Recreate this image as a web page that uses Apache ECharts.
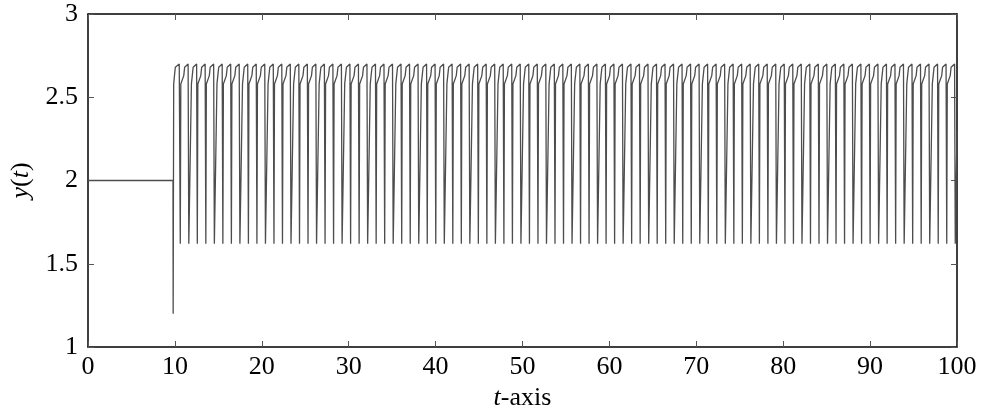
<!DOCTYPE html>
<html><head><meta charset="utf-8">
<script src="https://cdn.jsdelivr.net/npm/echarts@6/dist/echarts.min.js"></script>
<style>html,body{margin:0;padding:0;background:#fff}#c{width:987px;height:409px}</style>
</head><body><div id="c"></div>
<script>
const xTicks = [0,10,20,30,40,50,60,70,80,90,100];
const yTicks = [1,1.5,2,2.5,3];
const initialSegment = [[0,2],[9.78,2],[9.8,1.2],[9.86,2.58],[9.95,2.63],[10.05,2.68],[10.5,2.7]];
const oscillation = [
[10.62,1.62],[10.68,2.58],[11.02,2.63],[11.12,2.68],[11.52,2.7],
[11.6,1.62],[11.9,2.58],[12.0,2.63],[12.1,2.68],[12.5,2.7],
[12.58,1.62],[12.64,2.58],[12.98,2.63],[13.08,2.68],[13.48,2.7],
[13.56,1.62],[13.62,2.58],[13.96,2.63],[14.06,2.68],[14.46,2.7],
[14.54,1.62],[14.84,2.58],[14.94,2.63],[15.04,2.68],[15.44,2.7],
[15.52,1.62],[15.58,2.58],[15.92,2.63],[16.02,2.68],[16.42,2.7],
[16.5,1.62],[16.56,2.58],[16.9,2.63],[17.0,2.68],[17.4,2.7],
[17.48,1.62],[17.78,2.58],[17.88,2.63],[17.98,2.68],[18.38,2.7],
[18.46,1.62],[18.52,2.58],[18.86,2.63],[18.96,2.68],[19.36,2.7],
[19.44,1.62],[19.5,2.58],[19.84,2.63],[19.94,2.68],[20.34,2.7],
[20.42,1.62],[20.72,2.58],[20.82,2.63],[20.92,2.68],[21.32,2.7],
[21.4,1.62],[21.46,2.58],[21.8,2.63],[21.9,2.68],[22.3,2.7],
[22.38,1.62],[22.44,2.58],[22.78,2.63],[22.88,2.68],[23.28,2.7],
[23.36,1.62],[23.66,2.58],[23.76,2.63],[23.86,2.68],[24.26,2.7],
[24.34,1.62],[24.4,2.58],[24.74,2.63],[24.84,2.68],[25.24,2.7],
[25.32,1.62],[25.38,2.58],[25.72,2.63],[25.82,2.68],[26.22,2.7],
[26.3,1.62],[26.6,2.58],[26.7,2.63],[26.8,2.68],[27.2,2.7],
[27.28,1.62],[27.34,2.58],[27.68,2.63],[27.78,2.68],[28.18,2.7],
[28.26,1.62],[28.32,2.58],[28.66,2.63],[28.76,2.68],[29.16,2.7],
[29.24,1.62],[29.54,2.58],[29.64,2.63],[29.74,2.68],[30.14,2.7],
[30.22,1.62],[30.28,2.58],[30.62,2.63],[30.72,2.68],[31.12,2.7],
[31.2,1.62],[31.26,2.58],[31.6,2.63],[31.7,2.68],[32.1,2.7],
[32.18,1.62],[32.48,2.58],[32.58,2.63],[32.68,2.68],[33.08,2.7],
[33.16,1.62],[33.22,2.58],[33.56,2.63],[33.66,2.68],[34.06,2.7],
[34.14,1.62],[34.2,2.58],[34.54,2.63],[34.64,2.68],[35.04,2.7],
[35.12,1.62],[35.42,2.58],[35.52,2.63],[35.62,2.68],[36.02,2.7],
[36.1,1.62],[36.16,2.58],[36.5,2.63],[36.6,2.68],[37.0,2.7],
[37.08,1.62],[37.14,2.58],[37.48,2.63],[37.58,2.68],[37.98,2.7],
[38.06,1.62],[38.36,2.58],[38.46,2.63],[38.56,2.68],[38.96,2.7],
[39.04,1.62],[39.1,2.58],[39.44,2.63],[39.54,2.68],[39.94,2.7],
[40.02,1.62],[40.08,2.58],[40.42,2.63],[40.52,2.68],[40.92,2.7],
[41.0,1.62],[41.3,2.58],[41.4,2.63],[41.5,2.68],[41.9,2.7],
[41.98,1.62],[42.04,2.58],[42.38,2.63],[42.48,2.68],[42.88,2.7],
[42.96,1.62],[43.02,2.58],[43.36,2.63],[43.46,2.68],[43.86,2.7],
[43.94,1.62],[44.24,2.58],[44.34,2.63],[44.44,2.68],[44.84,2.7],
[44.92,1.62],[44.98,2.58],[45.32,2.63],[45.42,2.68],[45.82,2.7],
[45.9,1.62],[45.96,2.58],[46.3,2.63],[46.4,2.68],[46.8,2.7],
[46.88,1.62],[47.18,2.58],[47.28,2.63],[47.38,2.68],[47.78,2.7],
[47.86,1.62],[47.92,2.58],[48.26,2.63],[48.36,2.68],[48.76,2.7],
[48.84,1.62],[48.9,2.58],[49.24,2.63],[49.34,2.68],[49.74,2.7],
[49.82,1.62],[50.12,2.58],[50.22,2.63],[50.32,2.68],[50.72,2.7],
[50.8,1.62],[50.86,2.58],[51.2,2.63],[51.3,2.68],[51.7,2.7],
[51.78,1.62],[51.84,2.58],[52.18,2.63],[52.28,2.68],[52.68,2.7],
[52.76,1.62],[53.06,2.58],[53.16,2.63],[53.26,2.68],[53.66,2.7],
[53.74,1.62],[53.8,2.58],[54.14,2.63],[54.24,2.68],[54.64,2.7],
[54.72,1.62],[54.78,2.58],[55.12,2.63],[55.22,2.68],[55.62,2.7],
[55.7,1.62],[56.0,2.58],[56.1,2.63],[56.2,2.68],[56.6,2.7],
[56.68,1.62],[56.74,2.58],[57.08,2.63],[57.18,2.68],[57.58,2.7],
[57.66,1.62],[57.72,2.58],[58.06,2.63],[58.16,2.68],[58.56,2.7],
[58.64,1.62],[58.94,2.58],[59.04,2.63],[59.14,2.68],[59.54,2.7],
[59.62,1.62],[59.68,2.58],[60.02,2.63],[60.12,2.68],[60.52,2.7],
[60.6,1.62],[60.66,2.58],[61.0,2.63],[61.1,2.68],[61.5,2.7],
[61.58,1.62],[61.88,2.58],[61.98,2.63],[62.08,2.68],[62.48,2.7],
[62.56,1.62],[62.62,2.58],[62.96,2.63],[63.06,2.68],[63.46,2.7],
[63.54,1.62],[63.6,2.58],[63.94,2.63],[64.04,2.68],[64.44,2.7],
[64.52,1.62],[64.82,2.58],[64.92,2.63],[65.02,2.68],[65.42,2.7],
[65.5,1.62],[65.56,2.58],[65.9,2.63],[66.0,2.68],[66.4,2.7],
[66.48,1.62],[66.54,2.58],[66.88,2.63],[66.98,2.68],[67.38,2.7],
[67.46,1.62],[67.76,2.58],[67.86,2.63],[67.96,2.68],[68.36,2.7],
[68.44,1.62],[68.5,2.58],[68.84,2.63],[68.94,2.68],[69.34,2.7],
[69.42,1.62],[69.48,2.58],[69.82,2.63],[69.92,2.68],[70.32,2.7],
[70.4,1.62],[70.7,2.58],[70.8,2.63],[70.9,2.68],[71.3,2.7],
[71.38,1.62],[71.44,2.58],[71.78,2.63],[71.88,2.68],[72.28,2.7],
[72.36,1.62],[72.42,2.58],[72.76,2.63],[72.86,2.68],[73.26,2.7],
[73.34,1.62],[73.64,2.58],[73.74,2.63],[73.84,2.68],[74.24,2.7],
[74.32,1.62],[74.38,2.58],[74.72,2.63],[74.82,2.68],[75.22,2.7],
[75.3,1.62],[75.36,2.58],[75.7,2.63],[75.8,2.68],[76.2,2.7],
[76.28,1.62],[76.58,2.58],[76.68,2.63],[76.78,2.68],[77.18,2.7],
[77.26,1.62],[77.32,2.58],[77.66,2.63],[77.76,2.68],[78.16,2.7],
[78.24,1.62],[78.3,2.58],[78.64,2.63],[78.74,2.68],[79.14,2.7],
[79.22,1.62],[79.52,2.58],[79.62,2.63],[79.72,2.68],[80.12,2.7],
[80.2,1.62],[80.26,2.58],[80.6,2.63],[80.7,2.68],[81.1,2.7],
[81.18,1.62],[81.24,2.58],[81.58,2.63],[81.68,2.68],[82.08,2.7],
[82.16,1.62],[82.46,2.58],[82.56,2.63],[82.66,2.68],[83.06,2.7],
[83.14,1.62],[83.2,2.58],[83.54,2.63],[83.64,2.68],[84.04,2.7],
[84.12,1.62],[84.18,2.58],[84.52,2.63],[84.62,2.68],[85.02,2.7],
[85.1,1.62],[85.4,2.58],[85.5,2.63],[85.6,2.68],[86.0,2.7],
[86.08,1.62],[86.14,2.58],[86.48,2.63],[86.58,2.68],[86.98,2.7],
[87.06,1.62],[87.12,2.58],[87.46,2.63],[87.56,2.68],[87.96,2.7],
[88.04,1.62],[88.34,2.58],[88.44,2.63],[88.54,2.68],[88.94,2.7],
[89.02,1.62],[89.08,2.58],[89.42,2.63],[89.52,2.68],[89.92,2.7],
[90.0,1.62],[90.06,2.58],[90.4,2.63],[90.5,2.68],[90.9,2.7],
[90.98,1.62],[91.28,2.58],[91.38,2.63],[91.48,2.68],[91.88,2.7],
[91.96,1.62],[92.02,2.58],[92.36,2.63],[92.46,2.68],[92.86,2.7],
[92.94,1.62],[93.0,2.58],[93.34,2.63],[93.44,2.68],[93.84,2.7],
[93.92,1.62],[94.22,2.58],[94.32,2.63],[94.42,2.68],[94.82,2.7],
[94.9,1.62],[94.96,2.58],[95.3,2.63],[95.4,2.68],[95.8,2.7],
[95.88,1.62],[95.94,2.58],[96.28,2.63],[96.38,2.68],[96.78,2.7],
[96.86,1.62],[97.16,2.58],[97.26,2.63],[97.36,2.68],[97.76,2.7],
[97.84,1.62],[97.9,2.58],[98.24,2.63],[98.34,2.68],[98.74,2.7],
[98.82,1.62],[98.88,2.58],[99.22,2.63],[99.32,2.68],[99.72,2.7],
[99.8,1.62],[100,2.3]
];
const signal = initialSegment.concat(oscillation);

const FONT = '"Liberation Serif","Times New Roman",serif';
const chart = echarts.init(document.getElementById('c'), null, {renderer:'canvas'});
const axisCommon = {
  axisLine:{show:true, onZero:false, lineStyle:{color:'#000', width:1.5}},
  axisTick:{show:true, inside:true, length:6, lineStyle:{color:'#555', width:1}},
  splitLine:{show:false}
};
const nameRich = {i:{fontFamily:FONT, fontStyle:'italic', fontSize:26, color:'#000'}};
chart.setOption({
  animation:false,
  backgroundColor:'#fff',
  grid:{left:88, right:30, top:14, bottom:62, containLabel:false, outerBoundsMode:'none'},
  xAxis:[
    Object.assign({type:'value', min:xTicks[0], max:xTicks[xTicks.length-1], interval:10, position:'bottom',
      name:'{i|t}-axis', nameLocation:'middle', nameGap:31,
      nameTextStyle:{fontFamily:FONT, fontSize:26, color:'#000', rich:nameRich},
      axisLabel:{fontFamily:FONT, fontSize:26, color:'#000', margin:7}}, axisCommon),
    Object.assign({type:'value', min:xTicks[0], max:xTicks[xTicks.length-1], interval:10, position:'top',
      axisLabel:{show:false}}, axisCommon)
  ],
  yAxis:[
    Object.assign({type:'value', min:yTicks[0], max:yTicks[yTicks.length-1], interval:0.5, position:'left',
      name:'{i|y}({i|t})', nameLocation:'middle', nameGap:52, nameRotate:90,
      nameTextStyle:{fontFamily:FONT, fontSize:26, color:'#000', rich:nameRich},
      axisLabel:{fontFamily:FONT, fontSize:26, color:'#000', margin:10}}, axisCommon),
    Object.assign({type:'value', min:yTicks[0], max:yTicks[yTicks.length-1], interval:0.5, position:'right',
      axisLabel:{show:false}}, axisCommon)
  ],
  series:[{
    type:'line', data:signal, showSymbol:false, symbol:'none',
    lineStyle:{color:'#4d4d4d', width:1.3}, silent:true
  }]
});
</script></body></html>
